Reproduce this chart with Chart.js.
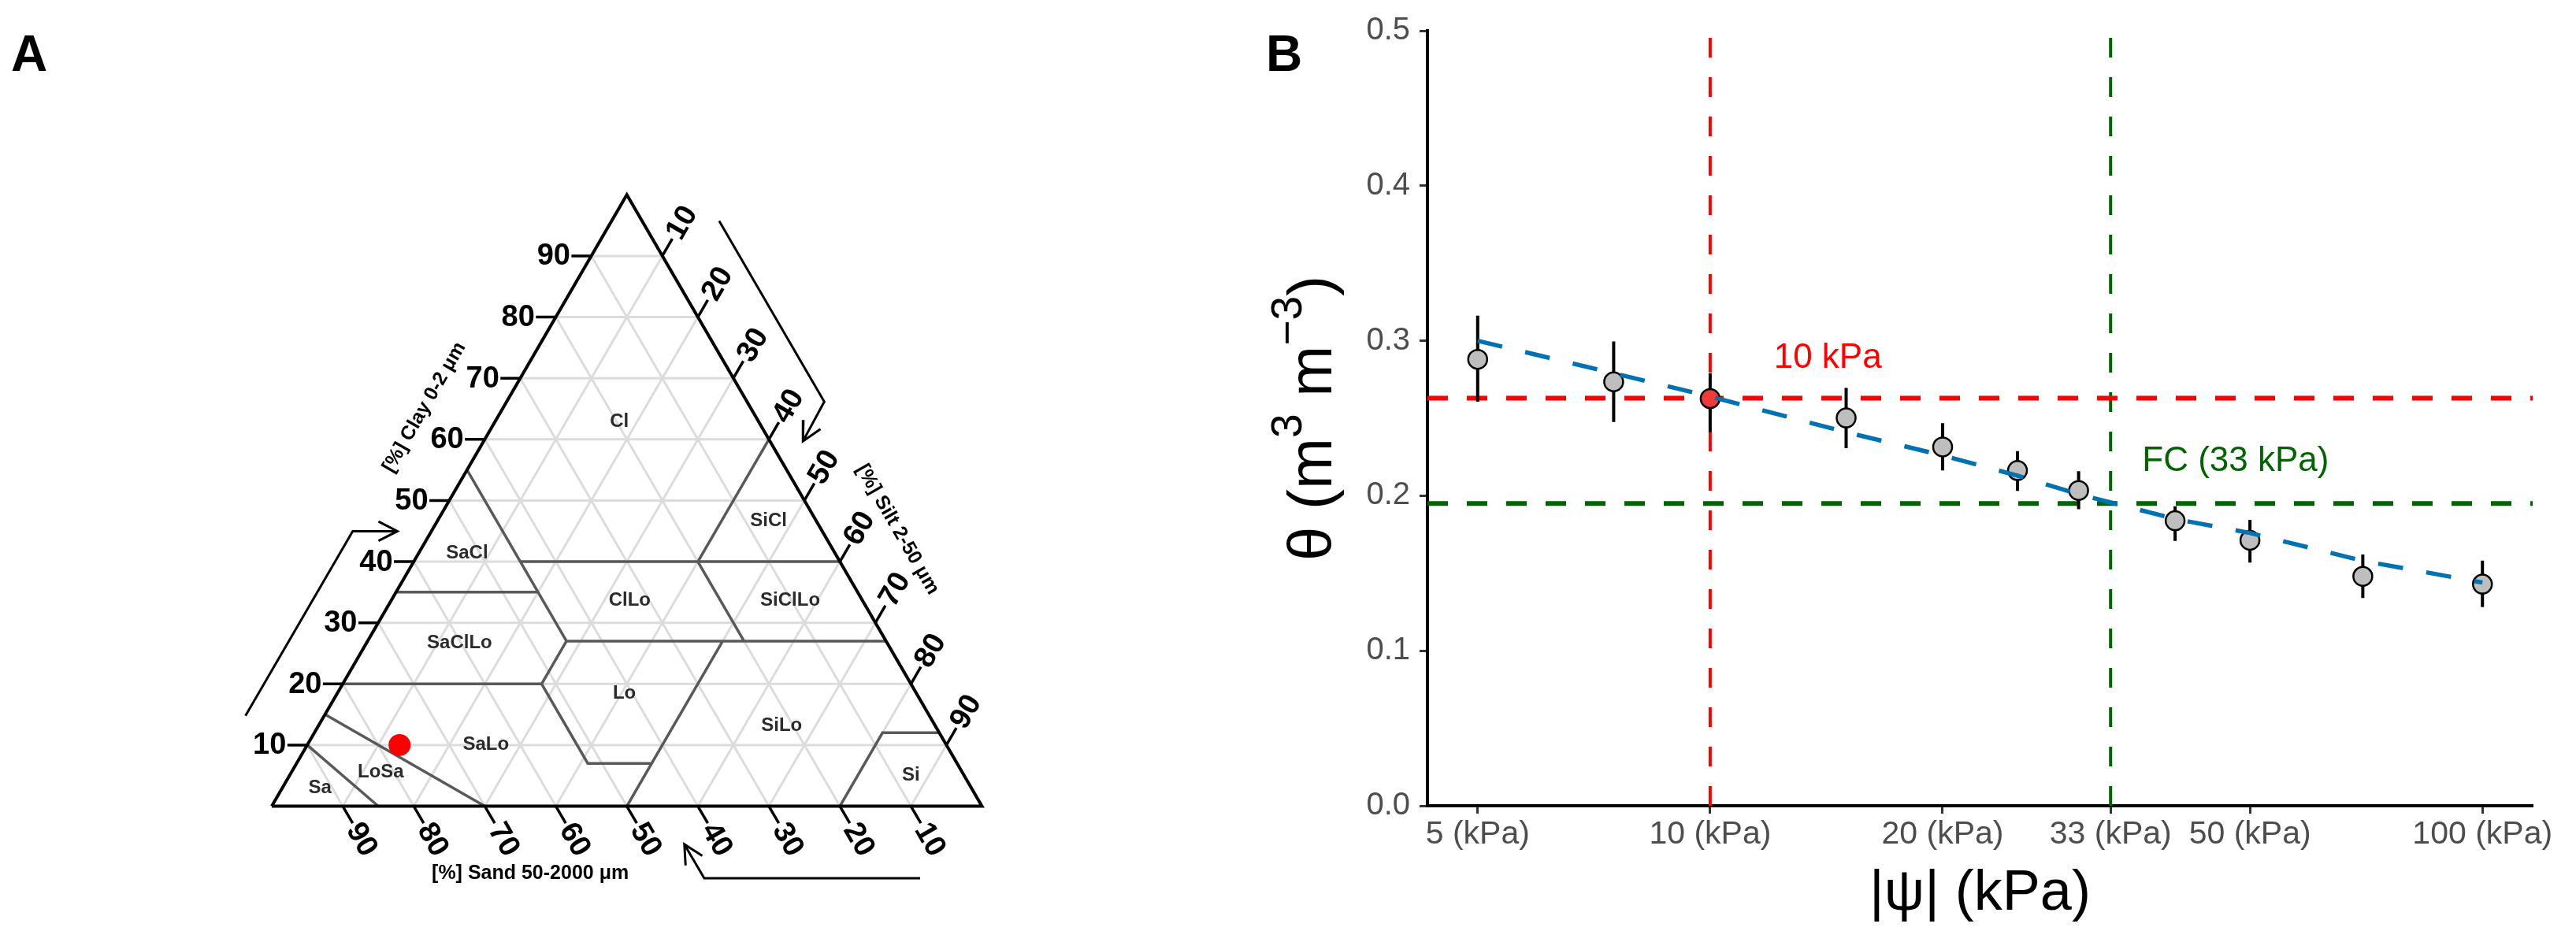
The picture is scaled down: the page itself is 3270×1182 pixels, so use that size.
<!DOCTYPE html>
<html>
<head>
<meta charset="utf-8">
<script src="https://cdn.jsdelivr.net/npm/chart.js@4.4.1/dist/chart.umd.min.js"></script>
<style>
  body { margin: 0; background: #fff; }
  #wrap { position: relative; width: 3270px; height: 1182px; background: #fff; }
  canvas { position: absolute; top: 0; }
  #ternary { left: 0; }
  #retention { left: 1560px; }
</style>
</head>
<body>
<div id="wrap">
  <canvas id="ternary" width="1560" height="1182"></canvas>
  <canvas id="retention" width="1710" height="1182"></canvas>
</div>
<script>
const FONT = '"Liberation Sans", Arial, sans-serif'

// ---------- A: texture triangle (sand, silt, clay in %) ----------
const ternTicks = [10, 20, 30, 40, 50, 60, 70, 80, 90]
const sampleSand = [77]
const sampleSilt = [13]
const sampleClay = [10]

const classNames = ['Cl', 'SiCl', 'SaCl', 'ClLo', 'SiClLo', 'SaClLo', 'Lo', 'SiLo', 'SaLo', 'LoSa', 'Sa', 'Si']
const classSand = [19.6, 6.7, 51.8, 32.8, 10.2, 60.2, 41.1, 21.6, 64.8, 81.9, 91.7, 7.5]
const classSilt = [17.5, 46.6, 6.8, 33.6, 56.2, 13.1, 40.4, 65.2, 25.1, 12.6, 5.3, 87.5]
const classClay = [62.9, 46.7, 41.4, 33.6, 33.6, 26.7, 18.5, 13.2, 10.1, 5.5, 3.0, 5.0]

// class boundaries as runs of [sand, silt, clay]
const classBounds = [
  [[90, 0, 10], [85, 15, 0]],
  [[85, 0, 15], [70, 30, 0]],
  [[80, 0, 20], [52, 28, 20], [52, 41, 7], [43, 50, 7], [50, 50, 0]],
  [[65, 0, 35], [45, 20, 35]],
  [[45, 0, 55], [45, 28, 27]],
  [[52, 28, 20], [45, 28, 27]],
  [[45, 28, 27], [0, 73, 27]],
  [[45, 15, 40], [0, 60, 40]],
  [[0, 40, 60], [20, 40, 40]],
  [[20, 40, 40], [20, 53, 27]],
  [[23, 50, 27], [43, 50, 7]],
  [[20, 80, 0], [8, 80, 12], [0, 88, 12]]
]

// direction arrows beside the edges (plot units)
const arrowRuns = [
  [[-3.7, 12.8], [11.4, 38.95], [17.7, 38.95]],
  [[63.0, 82.9], [77.8, 57.3], [74.8, 51.7]],
  [[91.3, -10.2], [60.9, -10.2], [58.1, -5.4]]
]

const ternTitles = ['[%] Clay 0-2 \u03bcm', '[%] Silt 2-50 \u03bcm', '[%] Sand 50-2000 \u03bcm']
const ternTitleX = [21.5, 88.1, 36.4]
const ternTitleY = [56.5, 39.2, -9.5]
const ternTitleRot = [-60, 60, 0]

// ---------- B: retention curve ----------
const psi = [5, 7.5, 10, 15, 20, 25, 30, 40, 50, 70, 100]
const theta = [0.288, 0.2735, 0.2627, 0.2502, 0.2315, 0.2163, 0.2034, 0.1839, 0.1713, 0.1480, 0.1430]
const thetaLow = [0.2607, 0.2476, 0.2410, 0.2307, 0.2163, 0.2031, 0.1913, 0.1709, 0.1569, 0.1340, 0.1282]
const thetaHigh = [0.3162, 0.2996, 0.2790, 0.2695, 0.2468, 0.2288, 0.2158, 0.1932, 0.1845, 0.1621, 0.1582]
const fitTheta = [0.300, 0.279, 0.264, 0.241, 0.226, 0.213, 0.201, 0.185, 0.176, 0.158, 0.144]
const psiTicks = [5, 10, 20, 33, 50, 100]
const refPsi = [10, 33]
const refTheta = [0.263, 0.195]
const refColors = ['#ff0000', '#006400']
const refLabels = ['10 kPa', 'FC (33 kPa)']
const refLabelPsi = [14.2, 47.9]
const refLabelTheta = [0.2825, 0.216]

// ---------- helpers ----------
const S3 = Math.sqrt(3) / 2
const tern = (sand, silt, clay) => ({ x: silt + clay / 2, y: clay * S3 })
const GAP = { x: null, y: null }
function flatten(runs) {
  const out = []
  runs.forEach(r => { r.forEach(p => out.push(p)); out.push(GAP) })
  return out
}
function lineSet(data, color, width, order) {
  return { data, showLine: true, spanGaps: false, borderColor: color, borderWidth: width,
           pointRadius: 0, pointHoverRadius: 0, order, borderCapStyle: 'butt' }
}

// triangle placement on the left canvas
const triLeft = 337, triBase = 1034, unitPx = 9.18
const TICK = 2.8

const gridRuns = []
const tickRuns = []
ternTicks.forEach(k => {
  gridRuns.push([tern(100 - k, 0, k), tern(0, 100 - k, k)])
  gridRuns.push([tern(100 - k, k, 0), tern(0, k, 100 - k)])
  gridRuns.push([tern(k, 100 - k, 0), tern(k, 0, 100 - k)])
  const c = tern(100 - k, 0, k), s = tern(0, k, 100 - k), b = tern(k, 100 - k, 0)
  tickRuns.push([c, { x: c.x - TICK, y: c.y }])
  tickRuns.push([s, { x: s.x + TICK / 2, y: s.y + TICK * S3 }])
  tickRuns.push([b, { x: b.x + TICK / 2, y: b.y - TICK * S3 }])
})

const arrowData = []
arrowRuns.forEach(r => {
  const pts = r.map(p => ({ x: p[0], y: p[1] }))
  arrowData.push(pts)
  const a = pts[pts.length - 2], b = pts[pts.length - 1]
  const len = Math.hypot(b.x - a.x, b.y - a.y)
  const dx = (a.x - b.x) / len, dy = (a.y - b.y) / len
  const arm = ang => {
    const c = Math.cos(ang), s = Math.sin(ang)
    return { x: b.x + 3.0 * (dx * c - dy * s), y: b.y + 3.0 * (dx * s + dy * c) }
  }
  const t = 27 * Math.PI / 180
  arrowData.push([arm(t), b, arm(-t)])
})

const ternLabels = {
  id: 'ternLabels',
  afterDatasetsDraw(chart) {
    const { ctx, scales } = chart
    const X = v => scales.x.getPixelForValue(v)
    const Y = v => scales.y.getPixelForValue(v)
    const tickPx = TICK * unitPx
    ctx.save()
    ctx.fillStyle = '#000'
    ctx.textBaseline = 'middle'
    ctx.font = 'bold 38px ' + FONT
    ternTicks.forEach(k => {
      const c = tern(100 - k, 0, k)
      ctx.textAlign = 'right'
      ctx.fillText(String(k), X(c.x) - tickPx - 1, Y(c.y) + 1)
      ctx.textAlign = 'left'
      const s = tern(0, k, 100 - k)
      ctx.save()
      ctx.translate(X(s.x) + (tickPx + 2) * 0.5, Y(s.y) - (tickPx + 2) * S3)
      ctx.rotate(-Math.PI / 3)
      ctx.fillText(String(k), 0, 1)
      ctx.restore()
      const b = tern(k, 100 - k, 0)
      ctx.save()
      ctx.translate(X(b.x) + (tickPx + 2) * 0.5, Y(b.y) + (tickPx + 2) * S3)
      ctx.rotate(Math.PI / 3)
      ctx.fillText(String(k), 0, 1)
      ctx.restore()
    })
    ctx.textAlign = 'center'
    ctx.fillStyle = '#2b2b2b'
    ctx.font = 'bold 24px ' + FONT
    classNames.forEach((n, i) => {
      const p = tern(classSand[i], classSilt[i], classClay[i])
      ctx.fillText(n, X(p.x), Y(p.y))
    })
    ctx.fillStyle = '#000'
    ctx.font = 'bold 25px ' + FONT
    ternTitles.forEach((t, i) => {
      ctx.save()
      ctx.translate(X(ternTitleX[i]), Y(ternTitleY[i]))
      ctx.rotate(ternTitleRot[i] * Math.PI / 180)
      ctx.fillText(t, 0, 0)
      ctx.restore()
    })
    ctx.textAlign = 'left'
    ctx.textBaseline = 'alphabetic'
    ctx.font = 'bold 64px ' + FONT
    ctx.fillText('A', 14, 90)
    ctx.restore()
  }
}

new Chart(document.getElementById('ternary'), {
  type: 'scatter',
  data: {
    datasets: [
      lineSet(flatten(gridRuns), '#dcdcdc', 3, 6),
      lineSet(flatten(classBounds.map(r => r.map(p => tern(p[0], p[1], p[2])))), '#595959', 3.5, 5),
      lineSet(flatten([[tern(100, 0, 0), tern(0, 100, 0), tern(0, 0, 100), tern(100, 0, 0)]]), '#000', 4, 4),
      lineSet(flatten(tickRuns), '#000', 3.5, 3),
      lineSet(flatten(arrowData), '#000', 3, 2),
      {
        data: sampleSand.map((s, i) => tern(s, sampleSilt[i], sampleClay[i])),
        pointRadius: 14, pointBackgroundColor: '#ff0000', pointBorderWidth: 0, showLine: false, order: 0
      }
    ]
  },
  options: {
    responsive: false, animation: false, devicePixelRatio: 1,
    layout: { padding: 0 },
    plugins: { legend: { display: false }, tooltip: { enabled: false } },
    scales: {
      x: { type: 'linear', display: false, min: -triLeft / unitPx, max: (1560 - triLeft) / unitPx },
      y: { type: 'linear', display: false, min: -(1182 - triBase) / unitPx, max: triBase / unitPx }
    }
  },
  plugins: [ternLabels]
})

// ---------- B chart ----------
const span = Math.log10(psiTicks[psiTicks.length - 1] / psiTicks[0])
const xMin = psiTicks[0] / Math.pow(10, 0.05 * span)
const xMax = psiTicks[psiTicks.length - 1] * Math.pow(10, 0.05 * span)

const errData = []
psi.forEach((p, i) => errData.push({ x: p, y: thetaLow[i] }, { x: p, y: thetaHigh[i] }, { x: p, y: null }))

const refSets = []
refPsi.forEach((p, i) => {
  refSets.push(Object.assign(lineSet([{ x: xMin, y: refTheta[i] }, { x: xMax, y: refTheta[i] }], refColors[i], 6, 4),
    { borderDash: [26, 24] }))
  refSets.push(Object.assign(lineSet([{ x: p, y: 0 }, { x: p, y: 0.5 }], refColors[i], 4, 4),
    { borderDash: [25, 25] }))
})

const retentionText = {
  id: 'retentionText',
  afterDatasetsDraw(chart) {
    const { ctx, scales, chartArea } = chart
    ctx.save()
    ctx.textBaseline = 'alphabetic'
    ctx.textAlign = 'center'
    ctx.font = '44px ' + FONT
    refLabels.forEach((t, i) => {
      ctx.fillStyle = refColors[i]
      ctx.fillText(t, scales.x.getPixelForValue(refLabelPsi[i]), scales.y.getPixelForValue(refLabelTheta[i]))
    })
    ctx.fillStyle = '#000'
    ctx.font = '72px ' + FONT
    ctx.fillText('|\u03c8| (kPa)', (chartArea.left + chartArea.right) / 2, 1155)

    // y title with superscripts, rotated
    const parts = [['\u03b8 (m', 78, 0], ['3', 55, 38], [' m', 78, 0], ['\u22123', 55, 38], [')', 78, 0]]
    let total = 0
    parts.forEach(p => { ctx.font = p[1] + 'px ' + FONT; total += ctx.measureText(p[0]).width })
    ctx.translate(chartArea.left - 122, (chartArea.top + chartArea.bottom) / 2)
    ctx.rotate(-Math.PI / 2)
    ctx.textAlign = 'left'
    let x = -total / 2
    parts.forEach(p => {
      ctx.font = p[1] + 'px ' + FONT
      ctx.fillText(p[0], x, -p[2])
      x += ctx.measureText(p[0]).width
    })
    ctx.restore()

    ctx.save()
    ctx.fillStyle = '#000'
    ctx.font = 'bold 64px ' + FONT
    ctx.textAlign = 'left'
    ctx.fillText('B', 47, 90)
    ctx.restore()
  }
}

new Chart(document.getElementById('retention'), {
  type: 'scatter',
  data: {
    datasets: [
      Object.assign(lineSet(psi.map((p, i) => ({ x: p, y: fitTheta[i] })), '#0072B2', 5.5, 0), { borderDash: [32, 30] }),
      {
        data: psi.map((p, i) => ({ x: p, y: theta[i] })),
        pointRadius: 12, pointHoverRadius: 12, pointBorderWidth: 2.5, pointBorderColor: '#000',
        pointBackgroundColor: psi.map(p => p === refPsi[0] ? '#f03a3a' : '#bebebe'),
        showLine: false, order: 1
      },
      lineSet(errData, '#000', 4, 2),
      ...refSets
    ]
  },
  options: {
    responsive: false, animation: false, devicePixelRatio: 1,
    layout: { padding: { top: 39, right: 55, left: 0, bottom: 0 } },
    plugins: { legend: { display: false }, tooltip: { enabled: false } },
    scales: {
      x: {
        type: 'logarithmic', min: xMin, max: xMax,
        afterBuildTicks: s => { s.ticks = psiTicks.map(v => ({ value: v })) },
        afterFit: s => { s.height = 159 },
        ticks: { autoSkip: false, maxRotation: 0, padding: 2, color: '#4d4d4d',
                 font: { family: FONT, size: 41 }, callback: v => v + ' (kPa)' },
        grid: { drawOnChartArea: false, drawTicks: true, tickLength: 10, tickWidth: 3, tickColor: '#333' },
        border: { display: true, color: '#000', width: 4 }
      },
      y: {
        type: 'linear', min: 0, max: 0.5,
        afterFit: s => { s.width = 252 },
        ticks: { stepSize: 0.1, padding: 12, color: '#4d4d4d',
                 font: { family: FONT, size: 40 }, callback: v => v.toFixed(1) },
        grid: { drawOnChartArea: false, drawTicks: true, tickLength: 10, tickWidth: 3, tickColor: '#333' },
        border: { display: true, color: '#000', width: 4 }
      }
    }
  },
  plugins: [retentionText]
})
</script>
</body>
</html>
